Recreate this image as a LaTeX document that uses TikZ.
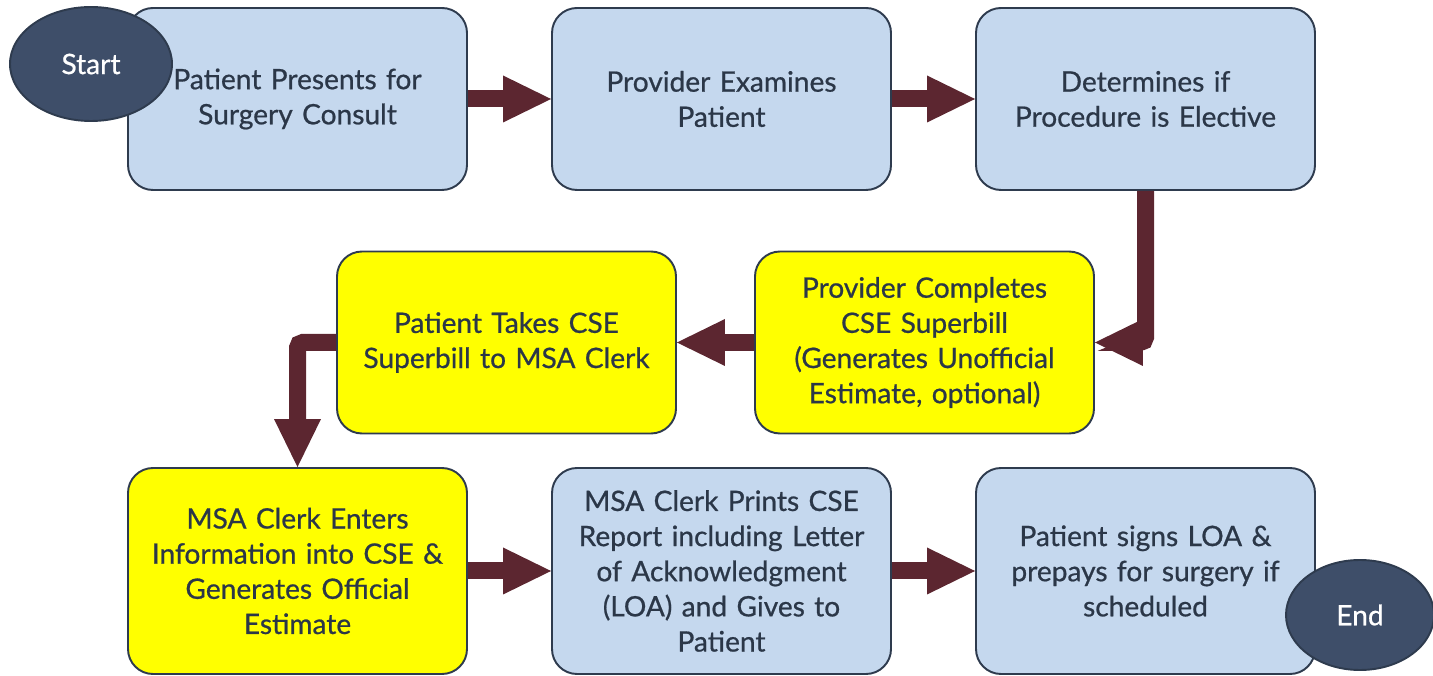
\documentclass[tikz,border=0pt]{standalone}
\usepackage{fontspec}
\setmainfont{Lato}
\newfontfamily\flowfont{Lato}[FakeBold=0.7]
\usetikzlibrary{arrows.meta,shapes.geometric}

\definecolor{boxblue}{HTML}{C5D8EE}
\definecolor{boxyellow}{HTML}{FFFF00}
\definecolor{boxline}{HTML}{2E3B4E}
\definecolor{arrowred}{HTML}{5C2630}
\definecolor{termfill}{HTML}{3E4E69}
\definecolor{textnavy}{HTML}{2B3748}

\begin{document}
\begin{tikzpicture}[
	stepbox/.style={draw=boxline,line width=1.1pt,fill=boxblue,rounded corners=0.5cm,
		minimum width=6.78cm,minimum height=3.64cm,text width=6.3cm,align=center,
		text=textnavy,font=\flowfont\fontsize{16}{20}\selectfont},
	actbox/.style={stepbox,fill=boxyellow},
	tallbox/.style={minimum height=4.12cm},
	terminal/.style={ellipse,draw=boxline,line width=1.1pt,fill=termfill,text=white,
		inner sep=0pt,font=\flowfont\fontsize{16}{20}\selectfont},
	flowarrow/.style={draw=arrowred,line width=0.34cm,rounded corners=3pt,
		-{Triangle[length=0.96cm,width=0.94cm,line width=0pt]}}
	]
	\useasboundingbox (0,0) rectangle (28.66,-13.52);

	% first row
	\node[stepbox] (present) at (5.95,-1.98) {Patient Presents for\\Surgery Consult};
	\node[stepbox] (examine) at (14.43,-1.98) {Provider Examines\\Patient};
	\node[stepbox] (elective) at (22.91,-1.98) {Determines if\\Procedure is Elective};

	% second row
	\node[actbox] (superbill) at (18.49,-6.85) {Provider Completes\\CSE Superbill\\(Generates Unofficial\\Estimate, optional)};
	\node[actbox] (takebill) at (10.13,-6.85) {Patient Takes CSE\\Superbill to MSA Clerk};

	% third row
	\node[actbox,tallbox] (enter) at (5.95,-11.42) {MSA Clerk Enters\\Information into CSE \&\\Generates Official\\Estimate};
	\node[stepbox,tallbox] (prints) at (14.43,-11.42) {MSA Clerk Prints CSE\\Report including Letter\\of Acknowledgment\\(LOA) and Gives to\\Patient};
	\node[stepbox,tallbox] (signs) at (22.91,-11.42) {Patient signs LOA \&\\prepays for surgery if\\scheduled};

	% connectors
	\draw[flowarrow] (present) -- (examine);
	\draw[flowarrow] (examine) -- (elective);
	\draw[flowarrow] (elective.south) |- (superbill.east);
	\draw[flowarrow] (superbill) -- (takebill);
	\draw[flowarrow] (takebill.west) -| (enter.north);
	\draw[flowarrow] (enter) -- (prints);
	\draw[flowarrow] (prints) -- (signs);

	% start and end
	\node[terminal,minimum width=3.24cm,minimum height=2.28cm] (start) at (1.82,-1.28) {Start};
	\node[terminal,minimum width=2.96cm,minimum height=2.2cm] (end) at (27.2,-12.3) {End};
\end{tikzpicture}
\end{document}
